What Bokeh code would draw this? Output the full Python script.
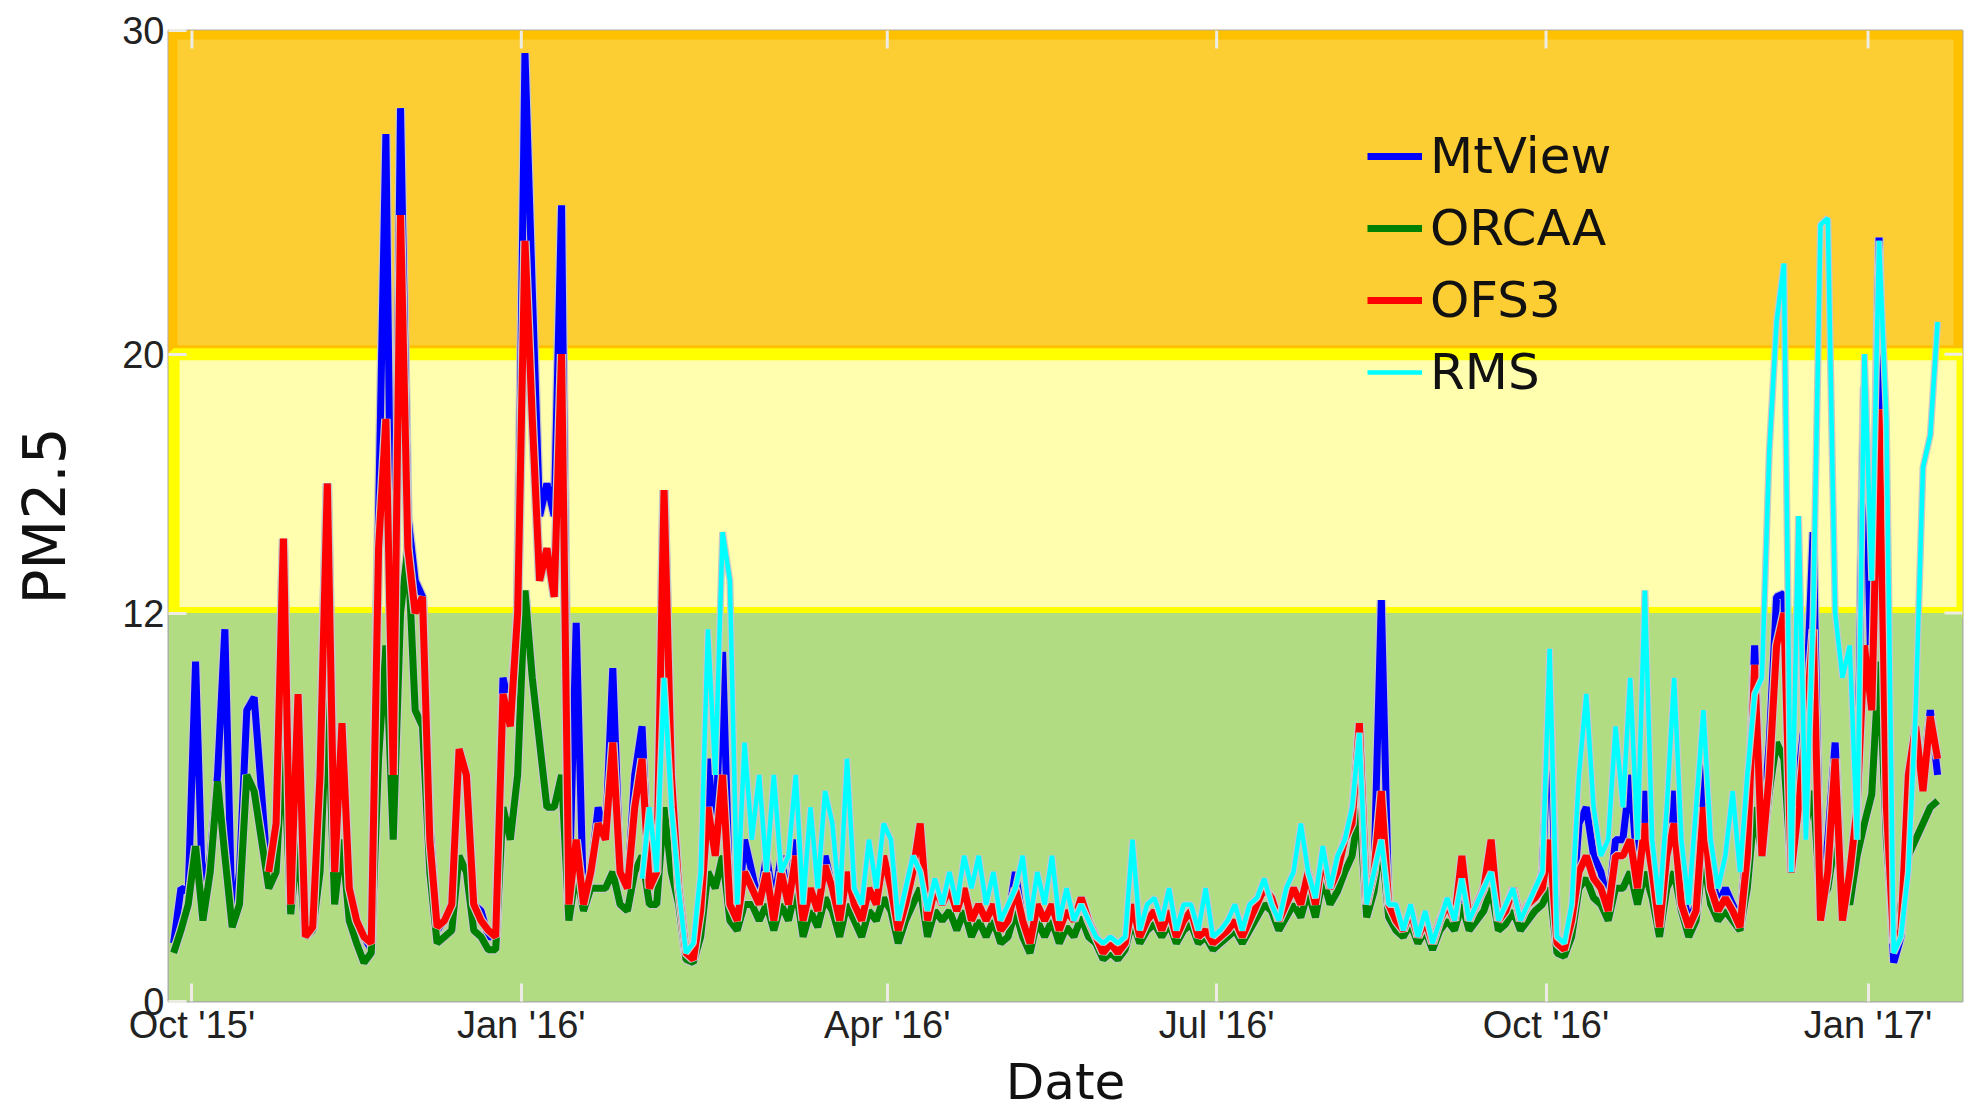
import numpy as np
from bokeh.plotting import figure
from bokeh.models import Legend, LegendItem, FixedTicker
from bokeh.embed import file_html
from bokeh.resources import INLINE

# ---- data (PM2.5, sampled every 2 days from the first reading) ----
day_step = 2

mtview = [
    1.8, 3.5, 3.4, 10.5, 3.0, 4.5, 7.0, 11.5, 2.3, 4.0,
    9.0, 9.4, 6.5, 3.5, 5.5, 14.0, 3.0, 9.5, 2.0, 2.3,
    7.5, 16.0, 4.5, 8.5, 3.5, 2.5, 2.0, 1.6, 15.0, 26.8,
    8.0, 27.6, 15.0, 13.0, 12.5, 5.5, 2.2, 2.5, 2.8, 7.5,
    7.0, 3.0, 2.8, 2.0, 2.0, 10.0, 9.0, 12.0, 29.3, 22.0,
    15.0, 16.0, 15.0, 24.6, 3.0, 11.7, 3.0, 4.0, 6.0, 5.0,
    10.3, 4.0, 3.5, 7.0, 8.5, 3.5, 4.0, 15.8, 7.0, 3.5,
    1.5, 1.6, 3.0, 7.5, 5.0, 10.8, 3.0, 2.5, 5.0, 4.0,
    3.0, 4.5, 3.0, 4.5, 3.0, 5.0, 2.5, 3.5, 2.8, 4.5,
    3.5, 2.5, 4.0, 3.0, 2.5, 3.5, 3.0, 4.5, 3.5, 2.2,
    3.0, 4.0, 5.0, 2.5, 3.5, 3.0, 3.5, 2.8, 3.5, 2.5,
    3.0, 2.5, 3.0, 2.2, 2.5, 4.0, 2.5, 1.8, 3.0, 2.5,
    3.0, 2.2, 2.8, 2.5, 3.2, 2.5, 2.0, 1.5, 1.8, 1.5,
    1.8, 3.0, 2.0, 2.5, 2.8, 2.2, 2.8, 2.0, 2.5, 2.8,
    2.0, 2.2, 1.8, 2.0, 2.2, 2.5, 2.0, 2.5, 3.0, 3.5,
    3.2, 2.5, 3.0, 3.5, 3.0, 4.0, 3.0, 4.5, 3.5, 4.0,
    5.0, 5.5, 8.6, 3.0, 4.0, 12.4, 3.0, 2.5, 2.2, 2.8,
    2.0, 2.5, 1.8, 2.5, 3.0, 2.5, 3.5, 2.5, 3.0, 3.5,
    4.5, 2.5, 2.8, 3.5, 2.5, 3.0, 3.2, 4.0, 9.4, 1.8,
    1.6, 2.5, 5.5, 6.0, 4.5, 4.0, 3.0, 5.0, 5.0, 7.0,
    4.0, 6.5, 4.5, 2.5, 5.0, 6.5, 3.5, 2.5, 3.0, 8.0,
    4.0, 3.0, 3.5, 3.0, 2.5, 5.0, 11.0, 5.0, 8.0, 12.5,
    12.6, 4.0, 7.0, 9.0, 14.5, 3.0, 5.0, 8.0, 3.0, 4.0,
    6.0, 19.0, 9.0, 23.6, 6.0, 1.2, 2.0, 6.0, 8.0, 7.0,
    9.0, 7.0,
]

orcaa = [
    1.5, 2.2, 3.0, 4.8, 2.5, 4.0, 6.8, 4.5, 2.3, 3.0,
    7.0, 6.5, 5.0, 3.5, 4.0, 8.0, 2.7, 5.0, 2.0, 2.2,
    4.0, 9.5, 3.0, 5.0, 2.5, 1.8, 1.2, 1.5, 7.5, 11.0,
    5.0, 12.0, 14.0, 9.0, 8.5, 4.0, 1.8, 2.0, 2.2, 4.5,
    4.0, 2.2, 2.0, 1.6, 1.6, 6.0, 5.0, 7.0, 12.7, 10.0,
    8.0, 6.0, 6.0, 7.0, 2.5, 4.0, 2.8, 3.5, 3.5, 3.5,
    4.0, 3.0, 2.8, 4.0, 4.5, 3.0, 3.0, 6.0, 4.0, 3.0,
    1.3, 1.2, 2.0, 4.0, 3.5, 4.5, 2.5, 2.2, 3.0, 3.0,
    2.5, 3.0, 2.2, 3.0, 2.5, 3.5, 2.0, 2.8, 2.3, 3.2,
    2.8, 2.0, 3.0, 2.5, 2.0, 2.8, 2.5, 3.2, 2.8, 1.8,
    2.5, 3.0, 3.5, 2.0, 2.8, 2.5, 2.8, 2.2, 2.8, 2.0,
    2.5, 2.0, 2.5, 1.8, 2.0, 2.8, 2.0, 1.5, 2.5, 2.0,
    2.5, 1.8, 2.3, 2.0, 2.6, 2.0, 1.8, 1.3, 1.5, 1.3,
    1.6, 2.5, 1.8, 2.2, 2.4, 2.0, 2.4, 1.8, 2.2, 2.4,
    1.8, 2.0, 1.6, 1.8, 2.0, 2.2, 1.8, 2.2, 2.6, 3.0,
    2.8, 2.2, 2.6, 3.0, 2.6, 3.4, 2.6, 3.8, 3.0, 3.4,
    4.0, 4.5, 6.0, 2.6, 3.4, 5.0, 2.6, 2.2, 2.0, 2.4,
    1.8, 2.2, 1.6, 2.2, 2.5, 2.2, 3.0, 2.2, 2.5, 2.8,
    3.5, 2.2, 2.4, 2.8, 2.2, 2.5, 2.8, 3.0, 3.5, 1.5,
    1.4, 2.0, 3.5, 3.8, 3.2, 3.0, 2.5, 3.5, 3.5, 4.0,
    3.0, 4.0, 3.2, 2.0, 3.5, 4.0, 2.8, 2.0, 2.5, 4.5,
    3.0, 2.5, 2.8, 2.5, 2.2, 3.5, 6.0, 4.5, 6.5, 8.0,
    7.5, 4.0, 6.5, 5.5, 6.5, 3.0, 3.5, 5.0, 3.5, 3.0,
    4.5, 5.5, 6.4, 10.5, 5.0, 2.0, 3.0, 4.5, 5.0, 5.5,
    6.0, 6.2,
]

ofs3 = [None] * 13 + [
    4.0, 5.5, 14.3, 3.0, 9.5, 2.0, 2.3,
    7.0, 16.0, 4.0, 8.6, 3.5, 2.5, 2.0, 1.8, 14.0, 18.0,
    7.0, 24.3, 14.0, 12.0, 12.5, 5.0, 2.3, 2.5, 3.0, 7.8,
    7.0, 3.0, 2.5, 2.2, 2.0, 9.5, 8.5, 12.0, 23.5, 18.0,
    13.0, 14.0, 12.5, 20.0, 3.0, 5.0, 3.0, 4.0, 5.5, 5.0,
    8.0, 4.0, 3.5, 6.0, 7.5, 3.5, 4.0, 15.8, 7.0, 3.5,
    1.5, 1.3, 2.8, 6.0, 4.5, 7.0, 3.0, 2.5, 4.0, 3.5,
    3.0, 4.0, 2.5, 4.0, 3.0, 4.5, 2.5, 3.5, 2.8, 4.2,
    3.5, 2.5, 4.0, 3.0, 2.5, 3.5, 3.0, 4.5, 3.5, 2.2,
    3.0, 4.0, 5.5, 2.5, 3.5, 3.0, 3.5, 2.8, 3.5, 2.5,
    3.0, 2.5, 3.0, 2.2, 2.5, 3.5, 2.5, 1.8, 3.0, 2.5,
    3.0, 2.2, 2.8, 2.5, 3.2, 2.5, 2.0, 1.5, 1.8, 1.5,
    1.8, 3.0, 2.0, 2.5, 2.8, 2.2, 2.8, 2.0, 2.5, 2.8,
    2.0, 2.2, 1.8, 2.0, 2.2, 2.5, 2.0, 2.5, 3.0, 3.5,
    3.2, 2.5, 3.0, 3.5, 3.0, 4.0, 3.0, 4.5, 3.5, 4.0,
    5.0, 5.5, 8.6, 3.0, 4.0, 6.5, 3.0, 2.5, 2.2, 2.8,
    2.0, 2.5, 1.8, 2.5, 3.0, 2.5, 4.5, 2.5, 3.0, 3.5,
    5.0, 2.5, 2.8, 3.5, 2.5, 3.0, 3.2, 3.5, 5.0, 1.8,
    1.6, 2.5, 4.0, 4.5, 3.8, 3.5, 2.8, 4.5, 4.5, 5.0,
    3.5, 5.5, 4.0, 2.3, 4.5, 5.5, 3.0, 2.3, 2.8, 6.0,
    3.5, 2.8, 3.2, 2.8, 2.3, 4.5, 10.4, 4.5, 7.0, 11.0,
    12.0, 4.0, 6.0, 8.6, 11.5, 2.5, 4.0, 7.5, 2.5, 4.0,
    6.0, 11.0, 9.0, 18.3, 6.0, 1.8, 2.2, 7.0, 8.5, 6.5,
    8.8, 7.5,
]

rms = [None] * 64 + [
    3.8, 6.0, 4.0, 10.0, 6.0, 3.5,
    1.5, 1.8, 4.0, 11.5, 7.0, 14.5, 13.0, 3.0, 8.0, 5.0,
    7.0, 4.0, 7.0, 4.0, 4.5, 7.0, 3.0, 6.0, 3.5, 6.5,
    5.5, 3.0, 7.5, 3.5, 3.0, 5.0, 3.5, 5.5, 5.0, 2.5,
    3.5, 4.5, 4.0, 2.8, 3.8, 3.0, 4.0, 3.0, 4.5, 3.5,
    4.5, 3.0, 4.0, 2.5, 3.0, 3.5, 4.5, 2.5, 4.0, 3.0,
    4.5, 2.5, 3.5, 2.5, 3.0, 2.5, 2.0, 1.8, 2.0, 1.8,
    2.0, 5.0, 2.2, 3.0, 3.2, 2.5, 3.5, 2.2, 3.0, 3.0,
    2.2, 3.5, 2.0, 2.2, 2.5, 3.0, 2.2, 3.0, 3.2, 3.8,
    3.0, 2.5, 3.5, 4.0, 5.5, 4.0, 3.2, 4.8, 3.5, 4.5,
    5.0, 6.0, 8.3, 3.0, 4.0, 5.0, 3.0, 3.0, 2.2, 3.0,
    2.0, 2.8, 1.8, 2.5, 3.2, 2.5, 3.8, 2.5, 3.0, 3.5,
    4.0, 2.5, 3.0, 3.5, 2.5, 3.0, 3.5, 4.0, 10.9, 2.0,
    1.8, 3.0, 7.0, 9.5, 6.0, 4.5, 5.0, 8.5, 6.0, 10.0,
    5.0, 12.7, 5.0, 3.0, 6.0, 10.0, 5.0, 3.0, 6.0, 9.0,
    5.0, 3.5, 4.5, 6.5, 4.0, 7.0, 9.5, 10.0, 17.0, 21.0,
    22.8, 4.0, 15.0, 5.0, 12.0, 24.0, 24.2, 12.0, 10.0, 11.0,
    5.0, 20.0, 13.0, 23.5, 18.0, 1.5, 2.0, 4.0, 9.0, 16.5,
    17.5, 21.0,
]

series_names = ["MtView", "ORCAA", "OFS3", "RMS"]
series_colors = ["#0000ff", "#008000", "#ff0000", "#00ffff"]

# x tick marks (day index from first reading) and their labels
tick_days = [5, 95, 195, 285, 375, 463]
tick_labels = ["Oct '15'", "Jan '16'", "Apr '16'", "Jul '16'", "Oct '16'", "Jan '17'"]
y_ticks = [0, 12, 20, 30]

# air-quality bands
band_bottom = [0, 12, 20]
band_top = [12, 20, 30]
band_fill = ["#b1dc82", "#fffdae", "#fdcd34"]
band_line = [None, "#ffff00", "#ffc000"]

x_lo, x_hi = -1.4, 488.8

days = np.arange(len(mtview)) * day_step

p = figure(width=1964, height=1113, x_range=(x_lo, x_hi), y_range=(0, 30),
           output_backend="svg", toolbar_location=None,
           min_border_left=168, min_border_right=2, min_border_top=30,
           min_border_bottom=108)
p.background_fill_color = "white"
p.border_fill_color = "white"
p.grid.visible = False
p.outline_line_color = "#a8a8a8"
p.outline_line_width = 2

# bands: orange (20-30), yellow (12-20), green (0-12)
p.quad(left=x_lo, right=x_hi, bottom=band_bottom[2], top=band_top[2],
       fill_color=band_fill[2], line_color=band_line[2], line_width=18)
p.quad(left=days[0], right=x_hi, bottom=band_bottom[1], top=band_top[1],
       fill_color=band_fill[1], line_color=band_line[1], line_width=12)
p.quad(left=x_lo, right=x_hi, bottom=band_bottom[0], top=band_top[0],
       fill_color=band_fill[0], line_color=None)

items = []
widths = [7, 7, 7, 4.5]
for vals, color, w, name in zip([mtview, orcaa, ofs3, rms], series_colors, widths, series_names):
    y = np.array(vals, dtype=float)
    p.line(days, y, line_color="#c8c8c8", line_width=w + 2.5)
    r = p.line(days, y, line_color=color, line_width=w)
    items.append(LegendItem(label=name, renderers=[r]))

# mirrored inward ticks on the top and right frame edges
tick_col = "#ecece4"
p.ray(x=tick_days, y=y_ticks[-1], length=18, length_units="screen", angle=-np.pi / 2,
      line_color=tick_col, line_width=3)
p.ray(x=x_hi, y=y_ticks[1:3], length=18, length_units="screen", angle=np.pi,
      line_color=tick_col, line_width=3)

legend = Legend(items=items, location=(1199, 600), padding=0, margin=0, spacing=14,
                glyph_width=55, glyph_height=58, label_height=58, label_standoff=8,
                label_text_font="DejaVu Sans", label_text_font_size="50px",
                label_text_color="#111111",
                background_fill_alpha=0, border_line_color=None)
p.add_layout(legend)

xa = p.xaxis[0]
ya = p.yaxis[0]
xa.ticker = FixedTicker(ticks=tick_days)
xa.major_label_overrides = {d: l for d, l in zip(tick_days, tick_labels)}
ya.ticker = FixedTicker(ticks=y_ticks)
for ax in (xa, ya):
    ax.major_tick_in = 18
    ax.major_tick_out = 0
    ax.minor_tick_line_color = None
    ax.major_tick_line_color = tick_col
    ax.major_tick_line_width = 3
    ax.axis_line_color = None
    ax.major_label_text_font = "Liberation Sans"
    ax.major_label_text_font_size = "38px"
    ax.major_label_text_color = "#222222"
    ax.axis_label_text_font = "DejaVu Sans"
    ax.axis_label_text_font_style = "normal"
    ax.axis_label_text_color = "#111111"
xa.major_label_standoff = 2
xa.axis_label = "Date"
xa.axis_label_text_font_size = "50px"
xa.axis_label_standoff = 4
ya.major_label_standoff = 4
ya.axis_label = "PM2.5"
ya.axis_label_text_font_size = "58px"
ya.axis_label_standoff = 40

open("out.html", "w").write(file_html(p, INLINE))
